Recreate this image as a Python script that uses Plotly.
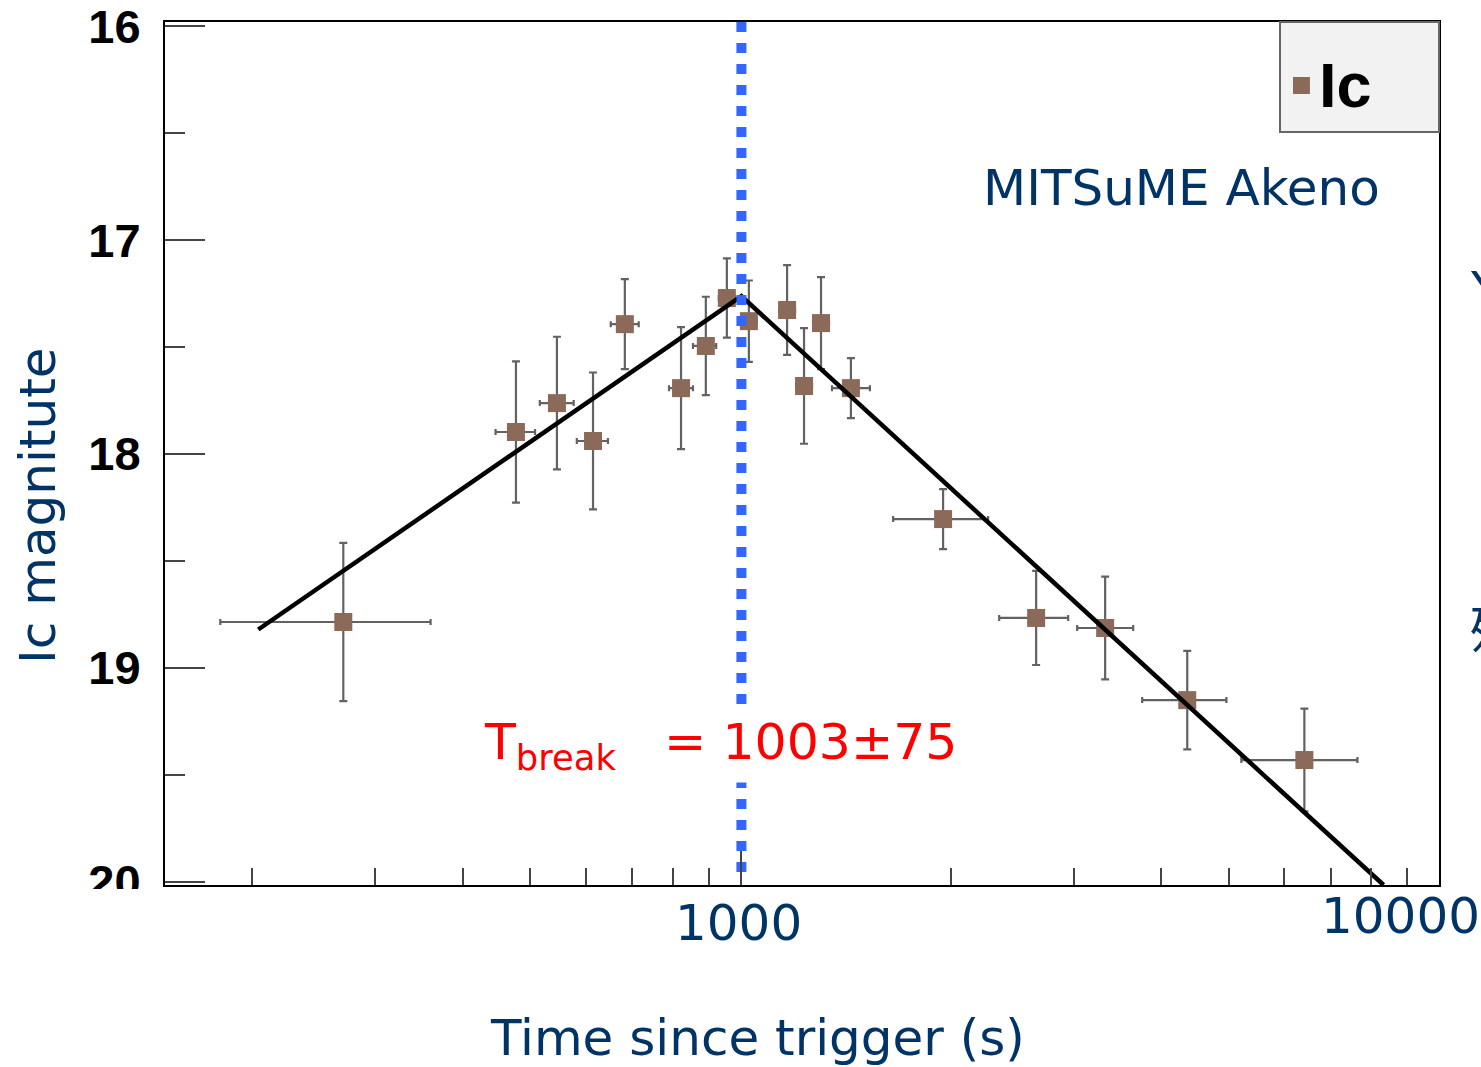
import numpy as np
import plotly.graph_objects as go

# Ic-band light curve, MITSuME Akeno
t_sec = [270, 477, 546, 615, 683, 822, 892, 956, 1028, 1166, 1233, 1304, 1439, 1950, 2650, 3327, 4361, 6416]
t_low = [180, 446, 516, 583, 652, 790, 855, 931, 1001, 1136, 1201, 1270, 1352, 1654, 2346, 3034, 3759, 5212]
t_high = [360, 508, 577, 646, 715, 855, 923, 982, 1055, 1197, 1266, 1339, 1532, 2262, 2945, 3649, 4962, 7642]
ic_mag = [18.785, 17.897, 17.762, 17.939, 17.393, 17.692, 17.495, 17.271, 17.379,
          17.327, 17.682, 17.388, 17.692, 18.304, 18.766, 18.813, 19.150, 19.430]
ic_err = [0.37, 0.33, 0.31, 0.32, 0.21, 0.285, 0.23, 0.185, 0.19,
          0.21, 0.27, 0.215, 0.14, 0.14, 0.22, 0.24, 0.23, 0.24]

# broken power-law fit (rise, break, decay)
fit_t = [204, 1003, 8330]
fit_mag = [18.82, 17.262, 20.014]
t_break = 1003
t_break_err = 75

y_ticks = [16, 17, 18, 19, 20]
y_minor = [16.5, 17.5, 18.5, 19.5]
x_major = [1000, 10000]
x_minor = [200, 300, 400, 500, 600, 700, 800, 900,
           2000, 3000, 4000, 5000, 6000, 7000, 8000, 9000]
x_labels = ["1000", "10000"]

X_RANGE = [np.log10(150), 4.0]
Y_RANGE = [20.014, 15.981]

BROWN = "#8c6a5a"
ERR = "#626262"
NAVY = "#003366"
TXT = "DejaVu Sans, Verdana, sans-serif"

fig = go.Figure()

fig.add_trace(go.Scatter(
    x=t_sec, y=ic_mag, mode="markers", name="Ic",
    marker=dict(symbol="square", size=18, color=BROWN),
    error_x=dict(type="data", symmetric=False,
                 array=[h - t for h, t in zip(t_high, t_sec)],
                 arrayminus=[t - l for t, l in zip(t_sec, t_low)],
                 color=ERR, thickness=2.2, width=3),
    error_y=dict(type="data", array=ic_err, color=ERR, thickness=2.2, width=4),
))

fig.add_trace(go.Scatter(
    x=fit_t, y=fit_mag, mode="lines",
    line=dict(color="black", width=4.5),
))

fig.add_trace(go.Scatter(
    x=[t_break, t_break], y=[Y_RANGE[1], 19.958], mode="lines",
    line=dict(color="#3366ff", width=10, dash="10px,11px"),
))

fig.update_layout(
    width=1481, height=1067,
    margin=dict(l=165, r=42, t=22, b=182),
    paper_bgcolor="white", plot_bgcolor="white",
    showlegend=False,
)

fig.update_xaxes(
    type="log", range=X_RANGE, automargin=False,
    showline=True, linecolor="black", linewidth=2, mirror=True,
    showgrid=False, zeroline=False,
    ticks="inside", tickvals=x_major, ticklen=34, tickwidth=2, tickcolor="#444",
    showticklabels=False,
    minor=dict(tickvals=x_minor, ticks="inside", ticklen=17, tickwidth=2,
               tickcolor="#444", showgrid=False),
)

fig.update_yaxes(
    range=Y_RANGE, automargin=False, ticklabeloverflow="allow",
    showline=True, linecolor="black", linewidth=2, mirror=True,
    showgrid=False, zeroline=False,
    ticks="inside", tickvals=y_ticks, ticklen=40, tickwidth=2, tickcolor="#444",
    tickfont=dict(family="Liberation Sans, Arial, sans-serif", size=47,
                  color="black", weight="bold"),
    ticklabelstandoff=13,
    minor=dict(tickvals=y_minor, ticks="inside", ticklen=20, tickwidth=2,
               tickcolor="#444", showgrid=False),
)

# the lowest y label is trimmed at the lower edge of the panel
fig.add_shape(type="rect", xref="paper", yref="paper",
              x0=-0.09, x1=-0.004, y0=-0.0046, y1=-0.06,
              fillcolor="white", line=dict(width=0), layer="above")

# legend box
fig.add_shape(type="rect", xref="paper", yref="paper",
              x0=0.8752, x1=1.0, y0=0.8725, y1=1.0,
              fillcolor="#f2f2f2", line=dict(color="#666", width=2), layer="above")
fig.add_shape(type="rect", xref="paper", yref="paper",
              x0=0.8854, x1=0.8987, y0=0.9166, y1=0.9363,
              fillcolor=BROWN, line=dict(width=0), layer="above")

annotations = [
    dict(text="<b>Ic</b>", x=0.9045, y=0.9265, xanchor="left", yanchor="middle",
         font=dict(family="Liberation Sans, Arial, sans-serif", size=63, color="black")),
    dict(text="MITSuME Akeno", x=0.7975, y=0.8077, xanchor="center", yanchor="middle",
         font=dict(family=TXT, size=50, color=NAVY)),
    dict(text="Ic magnitute", x=-0.0997, y=0.4392, xanchor="center", yanchor="middle",
         textangle=-90, font=dict(family=TXT, size=50, color=NAVY)),
    dict(text="Time since trigger (s)", x=0.4647, y=-0.177, xanchor="center", yanchor="middle",
         font=dict(family=TXT, size=50, color=NAVY)),
    dict(text=x_labels[0], x=0.4498, y=-0.044, xanchor="center", yanchor="middle",
         font=dict(family=TXT, size=50, color=NAVY)),
    dict(text=x_labels[1], x=0.9694, y=-0.036, xanchor="center", yanchor="middle",
         font=dict(family=TXT, size=50, color=NAVY)),
    dict(text="T<sub>break</sub>\u00a0\u00a0\u00a0= %d±%d" % (t_break, t_break_err),
         x=0.4364, y=0.1622, xanchor="center", yanchor="middle",
         bgcolor="white", borderpad=4,
         font=dict(family=TXT, size=50.5, color="red")),
    dict(text="Y", x=1.0227, y=0.69, xanchor="left", yanchor="middle",
         font=dict(family=TXT, size=50, color=NAVY)),
    dict(text="残", x=1.0227, y=0.30, xanchor="left", yanchor="middle",
         font=dict(family="Noto Sans CJK JP", size=50, color=NAVY)),
]
for a in annotations:
    a.setdefault("xref", "paper")
    a.setdefault("yref", "paper")
    a["showarrow"] = False
    fig.add_annotation(**a)

fig.write_html("out.html")
